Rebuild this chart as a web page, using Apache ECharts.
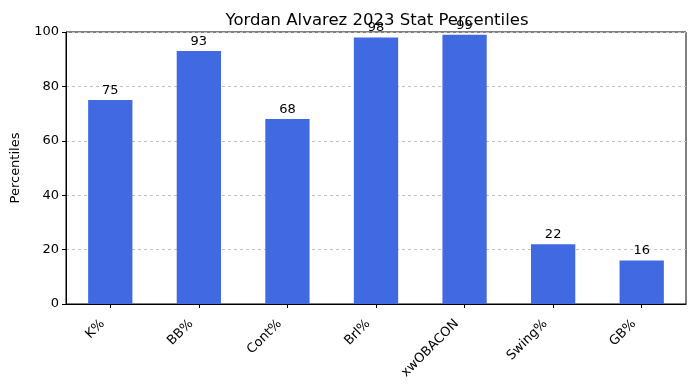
<!DOCTYPE html>
<html>
<head>
<meta charset="utf-8">
<script src="https://cdn.jsdelivr.net/npm/echarts@6/dist/echarts.min.js"></script>
<style>html,body{margin:0;padding:0;background:#fff}#c{width:695px;height:390px}</style>
</head>
<body>
<div id="c"></div>
<script>
const categories = ['K%', 'BB%', 'Cont%', 'Brl%', 'xwOBACON', 'Swing%', 'GB%'];
const percentiles = [75, 93, 68, 98, 99, 22, 16];
const yTicks = [0, 20, 40, 60, 80, 100];

const chart = echarts.init(document.getElementById('c'), null, {renderer: 'canvas'});
const font = 'DejaVu Sans';
chart.setOption({
  animation: false,
  title: {
    text: 'Yordan Alvarez 2023 Stat Percentiles',
    left: 372, top: 7, textAlign: 'center',
    textStyle: {fontFamily: font, fontSize: 16.5, fontWeight: 'normal', color: '#000'}
  },
  grid: {left: 66, right: 9, top: 32, bottom: 86, show: true, borderColor: '#000', borderWidth: 1,
         backgroundColor: 'transparent', containLabel: false, outerBoundsMode: 'none'},
  xAxis: {
    type: 'category', data: categories, boundaryGap: true,
    axisLine: {show: true, lineStyle: {color: '#000', width: 1}},
    axisTick: {show: true, alignWithLabel: true, length: 4, lineStyle: {color: '#000'}},
    axisLabel: {rotate: 45, margin: 10, padding: [0, 11, 0, 0], fontFamily: font, fontSize: 13, color: '#000', interval: 0}
  },
  yAxis: {
    type: 'value', min: yTicks[0], max: yTicks[yTicks.length - 1], interval: 20,
    name: 'Percentiles', nameLocation: 'middle', nameGap: 44, nameRotate: 90,
    nameTextStyle: {fontFamily: font, fontSize: 13, color: '#000'},
    axisLine: {show: true, lineStyle: {color: '#000', width: 1}},
    axisTick: {show: true, length: 4, lineStyle: {color: '#000'}},
    axisLabel: {fontFamily: font, fontSize: 13, color: '#000', margin: 7},
    splitLine: {show: true, lineStyle: {color: '#c0c0c0', type: [3, 3], width: 1}}
  },
  series: [{
    type: 'bar', data: percentiles, barWidth: '50%',
    itemStyle: {color: '#4169E1'},
    label: {show: true, position: 'top', distance: 3, fontFamily: font, fontSize: 13, color: '#000'}
  }]
});
</script>
</body>
</html>
